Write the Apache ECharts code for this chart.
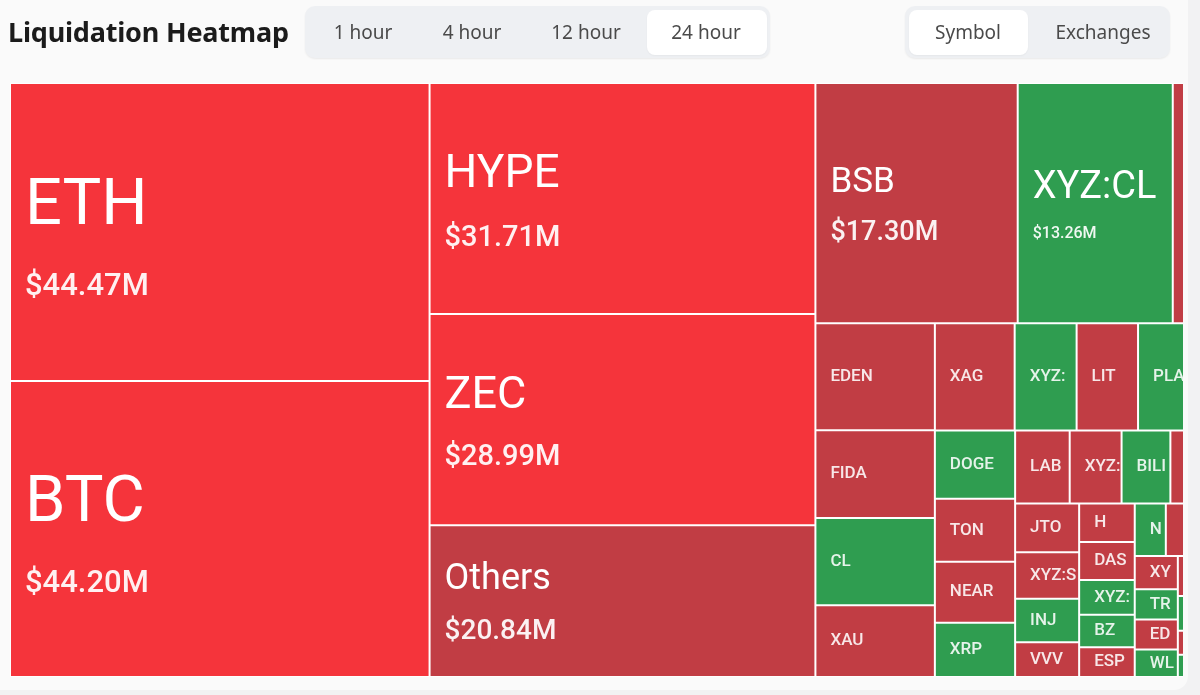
<!DOCTYPE html>
<html>
<head>
<meta charset="utf-8">
<script src="https://cdn.jsdelivr.net/npm/echarts/dist/echarts.min.js"></script>
<style>
  html, body { margin: 0; padding: 0; }
  body { width: 1200px; height: 695px; background: #F2F2F3; position: relative; overflow: hidden; font-family: 'Noto Sans', Roboto, sans-serif; }
  #card { position: absolute; left: -14px; top: -14px; width: 1202px; height: 704px; background: #FAFAFA; border-radius: 14px; }
  #clip { position: absolute; left: 0; top: 0; width: 1183px; height: 690px; overflow: hidden; }
  #chart { position: absolute; left: 0; top: 0; width: 1270px; height: 690px; }
  #title { position: absolute; left: 8px; top: 13px; font-size: 27px; font-weight: 700; color: #1b1b1b; letter-spacing: -0.2px; }
  .seg { position: absolute; top: 6px; height: 52px; background: #EEF0F3; border-radius: 10px; box-shadow: 0 1px 2px rgba(0,0,0,0.07); }
  .sel { position: absolute; top: 4px; height: 45px; background: #FFFFFF; border-radius: 8px; box-shadow: 0 1px 2px rgba(0,0,0,0.04); }
  .btn { position: absolute; top: 0; width: 120px; height: 52px; line-height: 52px; text-align: center; font-size: 19px; color: #4a4a4a; }
</style>
</head>
<body>
<div id="card"></div>
<div id="clip"><div id="chart"></div></div>
<div id="title">Liquidation Heatmap</div>
<div class="seg" style="left:305px;width:465px;">
  <div class="sel" style="left:342px;width:120px;"></div>
  <div class="btn" style="left:-2px;">1 hour</div>
  <div class="btn" style="left:107px;">4 hour</div>
  <div class="btn" style="left:221px;">12 hour</div>
  <div class="btn" style="left:341px;">24 hour</div>
</div>
<div class="seg" style="left:905px;width:265px;">
  <div class="sel" style="left:4px;width:119px;"></div>
  <div class="btn" style="left:3px;">Symbol</div>
  <div class="btn" style="left:138px;">Exchanges</div>
</div>
<script>
// Symbols (empty names = cells that lie in the part of the map cut off on the right)
const names = [
  'ETH', 'BTC', 'HYPE', 'ZEC', 'Others', 'BSB', 'XYZ:CL', '',
  'EDEN', 'FIDA', 'CL', 'XAU', 'XAG', 'XYZ:B', 'LIT', 'PLA', '',
  'DOGE', 'TON', 'NEAR', 'XRP', 'LAB', 'XYZ:', 'BILI', '', '',
  'JTO', 'XYZ:S', 'INJ', 'VVV', 'H', 'DASH', 'XYZ:', 'BZ', 'ESPO',
  'N', '', '', '', 'XYZ', 'TRU', 'EDG', 'WLFI',
  '', '', '', '', '', '', '', '', '', '', ''
];
// Liquidations, $M
const values = [
  44.47, 44.20, 31.71, 28.99, 20.84, 17.30, 13.26, 7.29,
  4.54, 3.73, 3.71, 3.05, 3.04, 2.36, 2.34, 2.30, 2.27,
  1.95, 1.80, 1.74, 1.55, 1.42, 1.35, 1.27, 1.15, 1.13,
  1.11, 1.06, 0.99, 0.79, 0.76, 0.75, 0.69, 0.64, 0.59,
  0.58, 0.576, 0.574, 0.57, 0.51, 0.465, 0.46, 0.42,
  0.40, 0.38, 0.36, 0.34, 0.33, 0.32, 0.30, 0.28, 0.26, 0.25, 0.23
];
// Dominant side: L = longs liquidated (red), S = shorts liquidated (green)
const sides = [
  'L', 'L', 'L', 'L', 'L', 'L', 'S', 'L',
  'L', 'L', 'S', 'L', 'L', 'S', 'L', 'S', 'L',
  'S', 'L', 'L', 'S', 'L', 'L', 'S', 'L', 'S',
  'L', 'L', 'S', 'L', 'L', 'L', 'S', 'S', 'L',
  'S', 'L', 'S', 'L', 'L', 'S', 'L', 'S',
  'L', 'S', 'L', 'S', 'L', 'S', 'L', 'S', 'L', 'S', 'L'
];

// ---- styles ----
const RED_STRONG = '#F5343B', RED = '#C13D44', GREEN = '#2F9D50';
const FONT = 'Roboto';
const bigLabel = {
  'ETH':    { ns: 65, nl: 111, vs: 31, vl: 49 },
  'BTC':    { ns: 65, nl: 111, vs: 31, vl: 49 },
  'HYPE':   { ns: 46, nl: 80,  vs: 29, vl: 46 },
  'ZEC':    { ns: 45, nl: 76,  vs: 29, vl: 46 },
  'Others': { ns: 36, nl: 62,  vs: 28, vl: 42 },
  'BSB':    { ns: 35, nl: 60,  vs: 27, vl: 40 },
  'XYZ:CL': { ns: 38, nl: 62,  vs: 16, vl: 30 }
};
const SMALL_LH = 20;
const rich = {
  s: { fontFamily: FONT, fontSize: 17, lineHeight: SMALL_LH, fontWeight: 500, color: 'rgba(255,255,255,0.88)' }
};
const bigKeys = Object.keys(bigLabel);
const blockH = {};
bigKeys.forEach(function (k, i) {
  const b = bigLabel[k];
  rich['n' + i] = { fontFamily: FONT, fontSize: b.ns, lineHeight: b.nl, color: '#FFFFFF' };
  rich['v' + i] = { fontFamily: FONT, fontSize: b.vs, lineHeight: b.vl, fontWeight: 500, color: 'rgba(255,255,255,0.93)' };
  blockH[i] = b.nl + b.vl;
});

function colorOf(i) {
  if (sides[i] === 'S') return GREEN;
  return values[i] > 25 ? RED_STRONG : RED;
}

const data = names.map(function (n, i) {
  return { name: n, value: values[i], itemStyle: { color: colorOf(i) } };
});

const chart = echarts.init(document.getElementById('chart'), null, { renderer: 'canvas' });
chart.setOption({
  animation: false,
  tooltip: { show: false },
  series: [{
    type: 'treemap',
    left: 10, top: 83, width: 1248, height: 594,
    roam: false,
    nodeClick: false,
    sort: 'desc',
    breadcrumb: { show: false },
    levels: [
      { itemStyle: { borderWidth: 0, gapWidth: 0 } },
      { itemStyle: { borderWidth: 1, borderColor: 'rgba(255,255,255,0.72)', gapWidth: 0 } }
    ],
    itemStyle: { borderWidth: 1, borderColor: 'rgba(255,255,255,0.72)', gapWidth: 0 },
    label: {
      show: true,
      position: 'insideLeft',
      padding: [0, 0, 0, 14],
      overflow: 'truncate',
      ellipsis: '',
      rich: rich,
      formatter: function (p) {
        if (!p.name) return '';
        const idx = bigKeys.indexOf(p.name);
        if (idx >= 0) {
          return '{n' + idx + '|' + p.name + '}\n{v' + idx + '|$' + p.value.toFixed(2) + 'M}';
        }
        return '{s|' + p.name + '}';
      }
    },
    labelLayout: function (p) {
      const m = /^\{n(\d+)\|/.exec(p.text || '');
      const h = m ? blockH[m[1]] : SMALL_LH;
      return { dy: Math.max(0, (p.rect.height - h) / 2) };
    },
    data: data
  }]
});
</script>
</body>
</html>
